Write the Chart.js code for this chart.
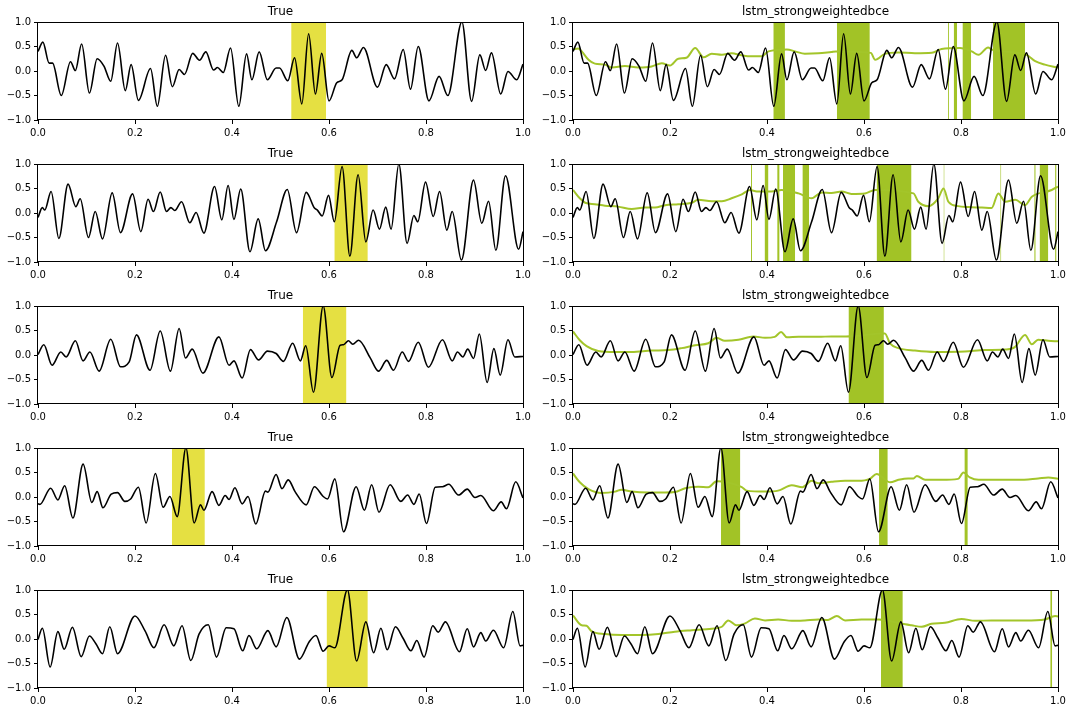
<!DOCTYPE html>
<html>
<head>
<meta charset="utf-8">
<script src="https://cdn.jsdelivr.net/npm/chart.js@4.4.0/dist/chart.umd.min.js"></script>
<style>
body { margin: 0; background: #fff; }
#fig { position: relative; width: 1072px; height: 712px; }
#fig canvas { position: absolute; }
</style>
</head>
<body>
<div id="fig"></div>
<script>
var xTicks = [0, 0.2, 0.4, 0.6, 0.8, 1.0];
var yTicks = [-1, -0.5, 0, 0.5, 1];
var leftTitle = 'True';
var rightTitle = 'lstm_strongweightedbce';

// true signals, [x, y]
var true1 = [[0,0.40],[0.010,0.59],[0.023,0.16],[0.030,0.16],[0.048,-0.50],[0.067,0.19],[0.077,0.01],[0.090,0.55],[0.106,-0.45],[0.122,0.25],[0.136,0.10],[0.150,-0.21],[0.164,0.57],[0.180,-0.40],[0.192,0.13],[0.207,-0.60],[0.232,0.05],[0.246,-0.72],[0.263,0.32],[0.277,-0.32],[0.291,0.03],[0.302,-0.07],[0.319,0.36],[0.333,0.22],[0.346,0.39],[0.362,0.02],[0.370,0.07],[0.382,-0.03],[0.397,0.47],[0.414,-0.72],[0.430,0.35],[0.441,-0.18],[0.456,0.39],[0.473,-0.18],[0.491,0.06],[0.498,0.06],[0.515,-0.20],[0.529,0.27],[0.544,-0.67],[0.558,0.76],[0.572,-0.47],[0.585,0.36],[0.600,-0.61],[0.616,-0.24],[0.627,-0.18],[0.647,0.42],[0.657,0.27],[0.671,0.48],[0.700,-0.33],[0.718,0.13],[0.735,-0.16],[0.753,0.44],[0.768,-0.37],[0.784,0.50],[0.806,-0.61],[0.827,-0.11],[0.845,-0.50],[0.874,1.0],[0.894,-0.62],[0.911,0.33],[0.923,0.01],[0.935,0.37],[0.954,-0.47],[0.969,-0.01],[0.987,-0.18],[1.0,0.14]];
var true2 = [[0,-0.09],[0.009,0.11],[0.014,0.06],[0.027,0.44],[0.043,-0.52],[0.062,0.59],[0.078,0.13],[0.087,0.29],[0.104,-0.50],[0.118,0.03],[0.133,-0.53],[0.153,0.41],[0.170,-0.40],[0.195,0.39],[0.212,-0.38],[0.227,0.28],[0.238,0.03],[0.252,0.43],[0.265,0.03],[0.274,0.11],[0.282,0.05],[0.296,0.23],[0.313,-0.20],[0.326,0.01],[0.342,-0.41],[0.364,0.54],[0.379,-0.14],[0.392,0.56],[0.404,-0.13],[0.418,0.49],[0.437,-0.79],[0.454,-0.12],[0.469,-0.77],[0.492,-0.18],[0.514,0.48],[0.533,-0.40],[0.553,0.42],[0.570,0.10],[0.576,0.06],[0.586,-0.06],[0.599,0.36],[0.611,-0.18],[0.627,0.95],[0.643,-0.88],[0.660,0.78],[0.676,-0.59],[0.691,0.06],[0.704,-0.33],[0.717,0.12],[0.728,-0.33],[0.744,1.0],[0.761,-0.62],[0.775,-0.05],[0.783,-0.18],[0.799,0.63],[0.815,-0.07],[0.828,0.44],[0.843,-0.35],[0.854,0.03],[0.873,-0.96],[0.898,0.67],[0.915,-0.21],[0.929,0.24],[0.944,-0.76],[0.964,0.76],[0.991,-0.74],[1.0,-0.38]];
var true3 = [[0,0.01],[0.012,0.21],[0.029,-0.21],[0.047,0.06],[0.058,-0.04],[0.077,0.29],[0.093,-0.12],[0.107,0.06],[0.126,-0.33],[0.150,0.32],[0.170,-0.24],[0.188,-0.14],[0.203,0.41],[0.231,-0.31],[0.252,0.49],[0.273,-0.33],[0.291,0.54],[0.304,-0.06],[0.318,0.12],[0.340,-0.37],[0.373,0.37],[0.394,-0.21],[0.404,-0.12],[0.421,-0.47],[0.438,0.11],[0.455,-0.10],[0.473,0.08],[0.491,0.03],[0.506,-0.13],[0.525,0.24],[0.541,-0.12],[0.552,0.19],[0.568,-0.76],[0.588,1.0],[0.606,-0.46],[0.623,0.20],[0.630,0.21],[0.640,0.29],[0.649,0.22],[0.661,0.30],[0.685,-0.06],[0.702,-0.33],[0.719,-0.11],[0.733,-0.31],[0.751,0.06],[0.764,-0.13],[0.784,0.26],[0.805,-0.25],[0.834,0.31],[0.854,-0.12],[0.865,0.06],[0.876,-0.04],[0.886,0.12],[0.898,-0.07],[0.910,0.43],[0.926,-0.56],[0.940,0.13],[0.953,-0.41],[0.969,0.31],[0.983,-0.04],[1.0,-0.03]];
var true4 = [[0,-0.14],[0.004,-0.15],[0.026,0.18],[0.041,-0.06],[0.055,0.23],[0.072,-0.43],[0.093,0.67],[0.111,-0.11],[0.122,0.11],[0.134,-0.22],[0.151,0.06],[0.164,0.09],[0.179,-0.09],[0.191,-0.04],[0.207,0.20],[0.223,-0.53],[0.242,0.48],[0.258,-0.21],[0.272,0.01],[0.287,-0.40],[0.305,1.0],[0.322,-0.53],[0.335,-0.16],[0.342,-0.27],[0.359,0.11],[0.373,-0.17],[0.386,0.03],[0.394,-0.05],[0.406,0.19],[0.421,-0.14],[0.433,0.01],[0.449,-0.55],[0.469,0.12],[0.474,0.10],[0.491,0.46],[0.503,0.17],[0.516,0.35],[0.530,0.11],[0.553,-0.16],[0.570,0.21],[0.588,0.01],[0.597,-0.04],[0.612,0.37],[0.630,-0.71],[0.656,0.21],[0.673,-0.27],[0.688,0.25],[0.703,-0.31],[0.726,0.25],[0.748,-0.09],[0.762,0.04],[0.775,-0.15],[0.786,0.06],[0.801,-0.54],[0.819,0.20],[0.834,0.21],[0.847,0.26],[0.867,0.04],[0.885,0.16],[0.901,-0.01],[0.913,0.03],[0.939,-0.28],[0.955,-0.10],[0.966,-0.24],[0.985,0.31],[1.0,-0.02]];
var true5 = [[0,-0.01],[0.009,0.22],[0.025,-0.57],[0.041,0.15],[0.054,-0.21],[0.071,0.24],[0.089,-0.36],[0.106,0.06],[0.119,-0.09],[0.133,-0.30],[0.148,0.25],[0.164,-0.30],[0.200,0.47],[0.221,0.16],[0.239,-0.18],[0.260,0.29],[0.280,-0.14],[0.297,0.27],[0.315,-0.44],[0.332,0.10],[0.351,0.29],[0.368,-0.37],[0.388,0.23],[0.404,0.21],[0.422,-0.24],[0.435,0.07],[0.451,-0.20],[0.474,0.17],[0.491,-0.16],[0.513,0.44],[0.539,-0.41],[0.559,-0.06],[0.573,0.07],[0.588,-0.25],[0.600,-0.14],[0.612,-0.18],[0.638,1.0],[0.657,-0.45],[0.676,0.35],[0.692,-0.28],[0.707,0.22],[0.720,-0.22],[0.737,0.25],[0.753,0.01],[0.769,-0.24],[0.781,-0.03],[0.796,-0.37],[0.814,0.27],[0.825,0.14],[0.840,0.35],[0.869,-0.26],[0.885,0.21],[0.898,-0.16],[0.913,0.13],[0.923,-0.04],[0.939,0.18],[0.960,-0.18],[0.979,0.56],[0.994,-0.14],[1.0,-0.13]];

// predictions (green line)
var pred1 = [[0,0.44],[0.011,0.46],[0.018,0.40],[0.032,0.23],[0.045,0.15],[0.066,0.13],[0.080,0.07],[0.107,0.10],[0.135,0.07],[0.162,0.09],[0.183,0.16],[0.200,0.11],[0.217,0.25],[0.234,0.27],[0.252,0.47],[0.269,0.28],[0.286,0.35],[0.307,0.33],[0.327,0.36],[0.348,0.32],[0.368,0.30],[0.389,0.30],[0.403,0.40],[0.441,0.44],[0.458,0.40],[0.478,0.35],[0.506,0.36],[0.533,0.39],[0.542,0.40],[0.614,0.37],[0.623,0.23],[0.643,0.35],[0.671,0.38],[0.705,0.36],[0.740,0.37],[0.760,0.45],[0.798,0.47],[0.822,0.40],[0.836,0.33],[0.856,0.48],[0.863,0.44],[0.935,0.33],[0.953,0.20],[0.973,0.13],[1.0,0.07]];
var pred2 = [[0,0.47],[0.014,0.30],[0.025,0.21],[0.045,0.18],[0.066,0.15],[0.093,0.13],[0.121,0.08],[0.148,0.11],[0.169,0.11],[0.190,0.16],[0.217,0.18],[0.245,0.21],[0.258,0.27],[0.286,0.24],[0.307,0.24],[0.327,0.30],[0.348,0.38],[0.365,0.47],[0.379,0.44],[0.409,0.44],[0.430,0.47],[0.465,0.40],[0.492,0.30],[0.513,0.42],[0.533,0.41],[0.554,0.44],[0.574,0.39],[0.602,0.40],[0.623,0.47],[0.702,0.40],[0.712,0.23],[0.733,0.14],[0.753,0.30],[0.764,0.50],[0.774,0.23],[0.794,0.14],[0.815,0.12],[0.843,0.11],[0.863,0.10],[0.877,0.40],[0.891,0.23],[0.912,0.27],[0.932,0.16],[0.946,0.33],[0.987,0.47],[1.0,0.54]];
var pred3 = [[0,0.48],[0.014,0.30],[0.028,0.18],[0.052,0.08],[0.087,0.06],[0.121,0.06],[0.162,0.09],[0.197,0.10],[0.224,0.14],[0.252,0.20],[0.279,0.24],[0.296,0.35],[0.313,0.29],[0.341,0.31],[0.372,0.38],[0.396,0.35],[0.416,0.37],[0.429,0.47],[0.441,0.36],[0.465,0.37],[0.506,0.37],[0.533,0.38],[0.563,0.38],[0.643,0.44],[0.654,0.23],[0.671,0.14],[0.705,0.09],[0.746,0.06],[0.808,0.07],[0.849,0.10],[0.891,0.11],[0.911,0.16],[0.932,0.41],[0.946,0.22],[0.959,0.31],[0.980,0.29],[1.0,0.28]];
var pred4 = [[0,0.48],[0.014,0.30],[0.032,0.16],[0.059,0.08],[0.087,0.11],[0.100,0.15],[0.121,0.11],[0.155,0.09],[0.190,0.09],[0.210,0.10],[0.231,0.18],[0.258,0.21],[0.279,0.20],[0.296,0.32],[0.348,0.20],[0.358,0.13],[0.396,0.11],[0.423,0.13],[0.451,0.24],[0.473,0.20],[0.492,0.33],[0.506,0.28],[0.533,0.31],[0.561,0.33],[0.588,0.33],[0.612,0.37],[0.626,0.47],[0.654,0.30],[0.671,0.35],[0.691,0.38],[0.702,0.38],[0.709,0.43],[0.726,0.35],[0.760,0.35],[0.794,0.37],[0.805,0.50],[0.818,0.40],[0.836,0.35],[0.877,0.35],[0.918,0.35],[0.959,0.38],[0.980,0.40],[1.0,0.37]];
var pred5 = [[0,0.48],[0.018,0.28],[0.028,0.27],[0.038,0.16],[0.066,0.10],[0.100,0.08],[0.142,0.08],[0.176,0.10],[0.210,0.15],[0.245,0.18],[0.286,0.21],[0.307,0.25],[0.320,0.38],[0.337,0.28],[0.355,0.32],[0.375,0.42],[0.396,0.38],[0.423,0.40],[0.451,0.37],[0.478,0.38],[0.506,0.40],[0.526,0.39],[0.544,0.47],[0.561,0.38],[0.595,0.40],[0.630,0.40],[0.685,0.30],[0.698,0.28],[0.719,0.25],[0.739,0.31],[0.767,0.33],[0.801,0.41],[0.829,0.37],[0.863,0.38],[0.898,0.38],[0.932,0.38],[0.973,0.40],[0.994,0.47],[1.0,0.46]];

// shaded intervals [start, end]
var trueBands1 = [[0.522, 0.594]];
var trueBands2 = [[0.611, 0.680]];
var trueBands3 = [[0.546, 0.636]];
var trueBands4 = [[0.276, 0.344]];
var trueBands5 = [[0.595, 0.680]];
var predBands1 = [[0.413,0.437],[0.544,0.612],[0.773,0.775],[0.785,0.792],[0.803,0.821],[0.866,0.932]];
var predBands2 = [[0.367,0.369],[0.395,0.403],[0.421,0.426],[0.433,0.458],[0.473,0.487],[0.626,0.698],[0.764,0.766],[0.881,0.883],[0.951,0.954],[0.962,0.980],[0.994,0.997]];
var predBands3 = [[0.568, 0.641]];
var predBands4 = [[0.305,0.345],[0.631,0.649],[0.807,0.814]];
var predBands5 = [[0.635,0.680],[0.984,0.988]];

var trueSignals = [true1, true2, true3, true4, true5];
var preds = [pred1, pred2, pred3, pred4, pred5];
var trueBands = [trueBands1, trueBands2, trueBands3, trueBands4, trueBands5];
var predBands = [predBands1, predBands2, predBands3, predBands4, predBands5];

Chart.defaults.font.family = 'DejaVu Sans';
Chart.defaults.font.size = 10;
Chart.defaults.color = '#000';

var fig = document.getElementById('fig');

// matplotlib style box around the axes
var framePlugin = {
    id: 'frame',
    afterDraw: function(chart) {
        var a = chart.chartArea;
        var ctx = chart.ctx;
        ctx.save();
        ctx.strokeStyle = '#000';
        ctx.lineWidth = 1;
        ctx.strokeRect(Math.round(a.left) - 0.5, Math.round(a.top) + 0.5,
            Math.round(a.right) - Math.round(a.left) + 1, Math.round(a.bottom) - Math.round(a.top) - 1);
        ctx.restore();
    }
};

function pts(arr) {
    return arr.map(function(p) { return {x: p[0], y: p[1]}; });
}

function fmt(v) {
    return v.toFixed(1).replace('-', '\u2212');
}

function makeChart(left, top, title, signal, pred, bands, bandColor) {
    var canvas = document.createElement('canvas');
    canvas.width = 535;
    canvas.height = 142;
    canvas.style.left = left + 'px';
    canvas.style.top = top + 'px';
    fig.appendChild(canvas);

    var datasets = [{
        data: pts(signal),
        borderColor: '#000',
        borderWidth: 1.6,
        pointRadius: 0,
        cubicInterpolationMode: 'monotone',
        fill: false
    }];
    if (pred) {
        datasets.push({
            data: pts(pred),
            borderColor: '#a3c52a',
            borderWidth: 2,
            pointRadius: 0,
            cubicInterpolationMode: 'monotone',
            fill: false
        });
    }
    bands.forEach(function(b) {
        datasets.push({
            data: [{x: b[0], y: 1}, {x: b[1], y: 1}],
            borderWidth: 0,
            pointRadius: 0,
            backgroundColor: bandColor,
            fill: {value: -1}
        });
    });

    new Chart(canvas.getContext('2d'), {
        type: 'line',
        data: {datasets: datasets},
        plugins: [framePlugin],
        options: {
            responsive: false,
            animation: false,
            devicePixelRatio: 1,
            events: [],
            layout: {padding: {left: 0, right: 12, top: 0, bottom: 0}},
            plugins: {
                legend: {display: false},
                tooltip: {enabled: false},
                title: {
                    display: true,
                    text: title,
                    fullSize: false,
                    font: {size: 12, weight: 'normal', lineHeight: 1.5},
                    padding: {top: 3, bottom: 1},
                    color: '#000'
                }
            },
            scales: {
                x: {
                    type: 'linear',
                    min: 0,
                    max: 1,
                    afterBuildTicks: function(s) { s.ticks = xTicks.map(function(v) { return {value: v}; }); },
                    afterFit: function(s) { s.height = 22; },
                    ticks: {callback: function(v) { return fmt(v); }, padding: 3, maxRotation: 0, autoSkip: false},
                    grid: {display: true, drawOnChartArea: false, drawTicks: true, tickLength: 4, color: '#000'},
                    border: {display: false}
                },
                y: {
                    min: -1,
                    max: 1,
                    afterBuildTicks: function(s) { s.ticks = yTicks.map(function(v) { return {value: v}; }); },
                    afterFit: function(s) { s.width = 38; },
                    ticks: {callback: function(v) { return fmt(v); }, padding: 3},
                    grid: {display: true, drawOnChartArea: false, drawTicks: true, tickLength: 4, color: '#000'},
                    border: {display: false}
                }
            }
        }
    });
}

for (var i = 0; i < 5; i++) {
    makeChart(0, i * 142, leftTitle, trueSignals[i], null, trueBands[i], '#e5e042');
    makeChart(535, i * 142, rightTitle, trueSignals[i], preds[i], predBands[i], '#a2c326');
}
</script>
</body>
</html>
